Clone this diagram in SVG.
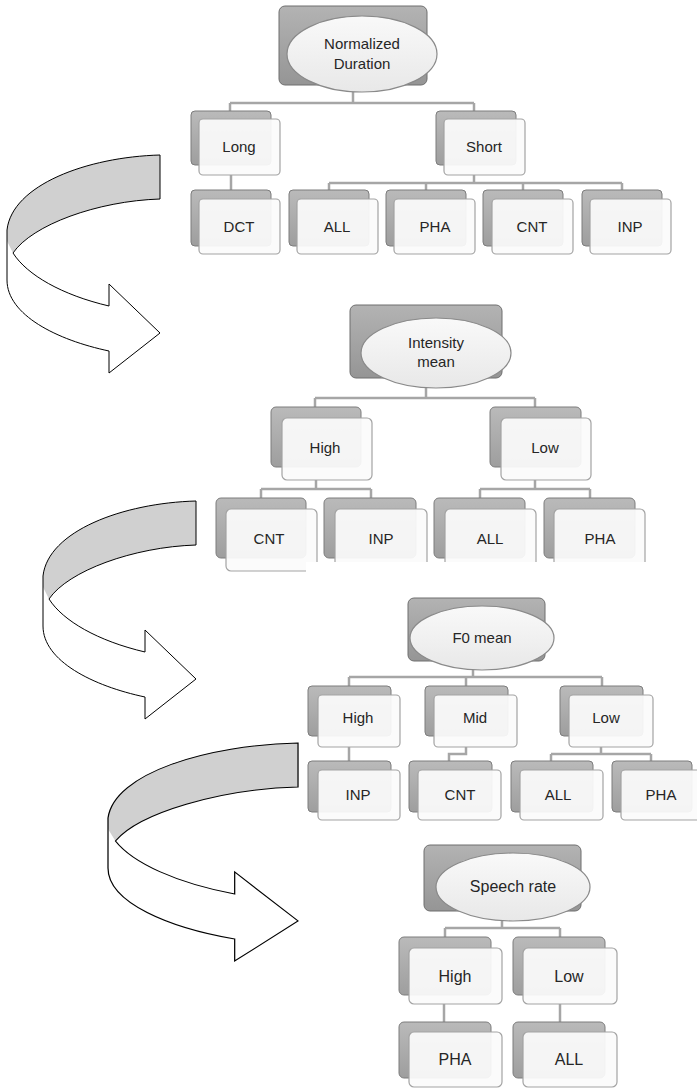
<svg xmlns="http://www.w3.org/2000/svg" xmlns:xlink="http://www.w3.org/1999/xlink" width="697" height="1089" viewBox="0 0 697 1089">
<style>
.bk{fill:url(#gb);stroke:#7d7d7d;stroke-width:1}
.fr{fill:#fbfbfb;fill-opacity:0.93;stroke:#a3a3a3;stroke-width:1.2}
.rt{fill:url(#gr);stroke:#6f6f6f;stroke-width:1}
.el{fill:url(#ge);stroke:#8a8a8a;stroke-width:1.2}
.cn{fill:none;stroke:#a6a6a6;stroke-width:2.5}
.t{font-family:"Liberation Sans",Arial,sans-serif;font-size:15px;fill:#262626;text-anchor:middle}
.t4{font-size:16px}
</style>
<defs>
<linearGradient id="gb" x1="0" y1="0" x2="0" y2="1"><stop offset="0" stop-color="#bababa"/><stop offset="1" stop-color="#9e9e9e"/></linearGradient>
<linearGradient id="gr" x1="0" y1="0" x2="0" y2="1"><stop offset="0" stop-color="#b3b3b3"/><stop offset="1" stop-color="#959595"/></linearGradient>
<linearGradient id="ge" x1="0" y1="0" x2="0" y2="1"><stop offset="0" stop-color="#f9f9f9"/><stop offset="1" stop-color="#e8e8e8"/></linearGradient>
<path id="aout" d="M153,0 L153,44 C90,46 25,70 6,98 C20,120 55,140 102,151 L102,129 L153,178 L102,218 L102,196 C50,185 0,160 0,125 L0,75 C5,30 80,2 153,0 Z"/>
<g id="arrow">
<use xlink:href="#aout" fill="#ffffff" stroke="none"/>
<path d="M153,0 L153,44 C90,46 25,70 6,98 L0,86 L0,75 C5,30 80,2 153,0 Z" fill="#d0d0d0" stroke="none"/>
<use xlink:href="#aout" fill="none" stroke="#000" stroke-width="1" vector-effect="non-scaling-stroke"/>
</g>
</defs>
<rect width="697" height="1089" fill="#fff"/>

<g id="arrows">
<use xlink:href="#arrow" transform="translate(7,155)"/>
<use xlink:href="#arrow" transform="translate(43,501)"/>
<use xlink:href="#arrow" transform="translate(108,743) scale(1.242,1)"/>
</g>

<g id="connectors">
<path class="cn" d="M353,92 V103 M230,103 H474 M230,103 V111 M474,103 V111"/>
<path class="cn" d="M231,175 V190"/>
<path class="cn" d="M474,175 V183 M329,183 H622 M329,183 V190 M426,183 V190 M523,183 V190 M622,183 V190"/>
<path class="cn" d="M426,388 V398 M315,398 H535 M315,398 V407 M535,398 V407"/>
<path class="cn" d="M316,480 V489 M261,489 H371 M261,489 V498 M371,489 V498"/>
<path class="cn" d="M535,480 V489 M480,489 H590 M480,489 V498 M590,489 V498"/>
<path class="cn" d="M473,670 V677 M349,677 H602 M349,677 V686 M466,677 V686 M602,677 V686"/>
<path class="cn" d="M349,747 V761"/>
<path class="cn" d="M466,747 V754 H449 V761"/>
<path class="cn" d="M601,747 V754 M551,754 H651 M551,754 V761 M651,754 V761"/>
<path class="cn" d="M502,921 V928 M445,928 H560 M445,928 V937 M560,928 V937"/>
<path class="cn" d="M444,1004 V1022 M560,1004 V1022"/>
</g>

<g id="t1-root"><rect class="rt" x="279" y="6" width="148" height="79" rx="6"/><ellipse class="el" cx="362" cy="54" rx="75" ry="38"/><text class="t" x="362" y="49">Normalized</text><text class="t" x="362" y="69">Duration</text></g>
<g id="t1-long"><rect class="bk" x="191" y="111" width="80" height="54" rx="4"/><rect class="fr" x="199" y="119" width="81" height="56" rx="4"/><text class="t" x="239" y="152">Long</text></g>
<g id="t1-short"><rect class="bk" x="436" y="111" width="80" height="54" rx="4"/><rect class="fr" x="444" y="119" width="81" height="56" rx="4"/><text class="t" x="484" y="152">Short</text></g>
<g id="t1-dct"><rect class="bk" x="191" y="190" width="80" height="56" rx="4"/><rect class="fr" x="199" y="199" width="81" height="55" rx="4"/><text class="t" x="239" y="232">DCT</text></g>
<g id="t1-all"><rect class="bk" x="289" y="190" width="80" height="56" rx="4"/><rect class="fr" x="297" y="199" width="81" height="55" rx="4"/><text class="t" x="337" y="232">ALL</text></g>
<g id="t1-pha"><rect class="bk" x="386" y="190" width="80" height="56" rx="4"/><rect class="fr" x="394" y="199" width="81" height="55" rx="4"/><text class="t" x="435" y="232">PHA</text></g>
<g id="t1-cnt"><rect class="bk" x="483" y="190" width="80" height="56" rx="4"/><rect class="fr" x="492" y="199" width="81" height="55" rx="4"/><text class="t" x="532" y="232">CNT</text></g>
<g id="t1-inp"><rect class="bk" x="582" y="190" width="80" height="56" rx="4"/><rect class="fr" x="590" y="199" width="81" height="55" rx="4"/><text class="t" x="630" y="232">INP</text></g>

<g id="t2-root"><rect class="rt" x="350" y="305" width="152" height="73" rx="6"/><ellipse class="el" cx="436" cy="353" rx="75" ry="35"/><text class="t" x="436" y="348">Intensity</text><text class="t" x="436" y="367">mean</text></g>
<g id="t2-high"><rect class="bk" x="271" y="407" width="90" height="60" rx="5"/><rect class="fr" x="282" y="418" width="90" height="62" rx="5"/><text class="t" x="325" y="453">High</text></g>
<g id="t2-low"><rect class="bk" x="490" y="407" width="91" height="60" rx="5"/><rect class="fr" x="501" y="418" width="90" height="62" rx="5"/><text class="t" x="545" y="453">Low</text></g>
<g id="t2-cnt"><rect class="bk" x="216" y="498" width="90" height="60" rx="5"/><rect class="fr" x="226" y="509" width="91" height="62" rx="5"/><text class="t" x="269" y="544">CNT</text></g>
<g id="t2-inp"><rect class="bk" x="324" y="498" width="92" height="60" rx="5"/><rect class="fr" x="335" y="509" width="92" height="62" rx="5"/><text class="t" x="381" y="544">INP</text></g>
<g id="t2-all"><rect class="bk" x="434" y="498" width="91" height="60" rx="5"/><rect class="fr" x="445" y="509" width="91" height="62" rx="5"/><text class="t" x="490" y="544">ALL</text></g>
<g id="t2-pha"><rect class="bk" x="544" y="498" width="91" height="60" rx="5"/><rect class="fr" x="554" y="509" width="91" height="62" rx="5"/><text class="t" x="600" y="544">PHA</text></g>
<rect x="306" y="562" width="391" height="25" fill="#fff"/>

<g id="t3-root"><rect class="rt" x="408" y="598" width="137" height="63" rx="6"/><ellipse class="el" cx="482" cy="638" rx="72" ry="32"/><text class="t" x="482" y="643">F0 mean</text></g>
<g id="t3-high"><rect class="bk" x="308" y="686" width="83" height="50" rx="4"/><rect class="fr" x="318" y="695" width="82" height="52" rx="4"/><text class="t" x="358" y="723">High</text></g>
<g id="t3-mid"><rect class="bk" x="425" y="686" width="83" height="50" rx="4"/><rect class="fr" x="434" y="695" width="83" height="52" rx="4"/><text class="t" x="475" y="723">Mid</text></g>
<g id="t3-low"><rect class="bk" x="560" y="686" width="83" height="50" rx="4"/><rect class="fr" x="569" y="695" width="84" height="52" rx="4"/><text class="t" x="606" y="723">Low</text></g>
<g id="t3-inp"><rect class="bk" x="308" y="761" width="83" height="51" rx="4"/><rect class="fr" x="318" y="770" width="82" height="50" rx="4"/><text class="t" x="358" y="800">INP</text></g>
<g id="t3-cnt"><rect class="bk" x="409" y="761" width="83" height="51" rx="4"/><rect class="fr" x="418" y="770" width="83" height="50" rx="4"/><text class="t" x="460" y="800">CNT</text></g>
<g id="t3-all"><rect class="bk" x="511" y="761" width="82" height="51" rx="4"/><rect class="fr" x="520" y="770" width="83" height="50" rx="4"/><text class="t" x="558" y="800">ALL</text></g>
<g id="t3-pha"><rect class="bk" x="612" y="761" width="80" height="51" rx="4"/><rect class="fr" x="621" y="770" width="80" height="50" rx="4"/><text class="t" x="661" y="800">PHA</text></g>

<g id="t4-root"><rect class="rt" x="424" y="845" width="157" height="66" rx="6"/><ellipse class="el" cx="513" cy="887" rx="77" ry="34"/><text class="t t4" x="513" y="892">Speech rate</text></g>
<g id="t4-high"><rect class="bk" x="399" y="937" width="92" height="58" rx="5"/><rect class="fr" x="409" y="948" width="93" height="56" rx="5"/><text class="t t4" x="455" y="982">High</text></g>
<g id="t4-low"><rect class="bk" x="513" y="937" width="92" height="58" rx="5"/><rect class="fr" x="523" y="948" width="94" height="56" rx="5"/><text class="t t4" x="569" y="982">Low</text></g>
<g id="t4-pha"><rect class="bk" x="399" y="1022" width="92" height="56" rx="5"/><rect class="fr" x="409" y="1032" width="93" height="55" rx="5"/><text class="t t4" x="455" y="1065">PHA</text></g>
<g id="t4-all"><rect class="bk" x="513" y="1022" width="92" height="56" rx="5"/><rect class="fr" x="523" y="1032" width="94" height="55" rx="5"/><text class="t t4" x="569" y="1065">ALL</text></g>
</svg>
